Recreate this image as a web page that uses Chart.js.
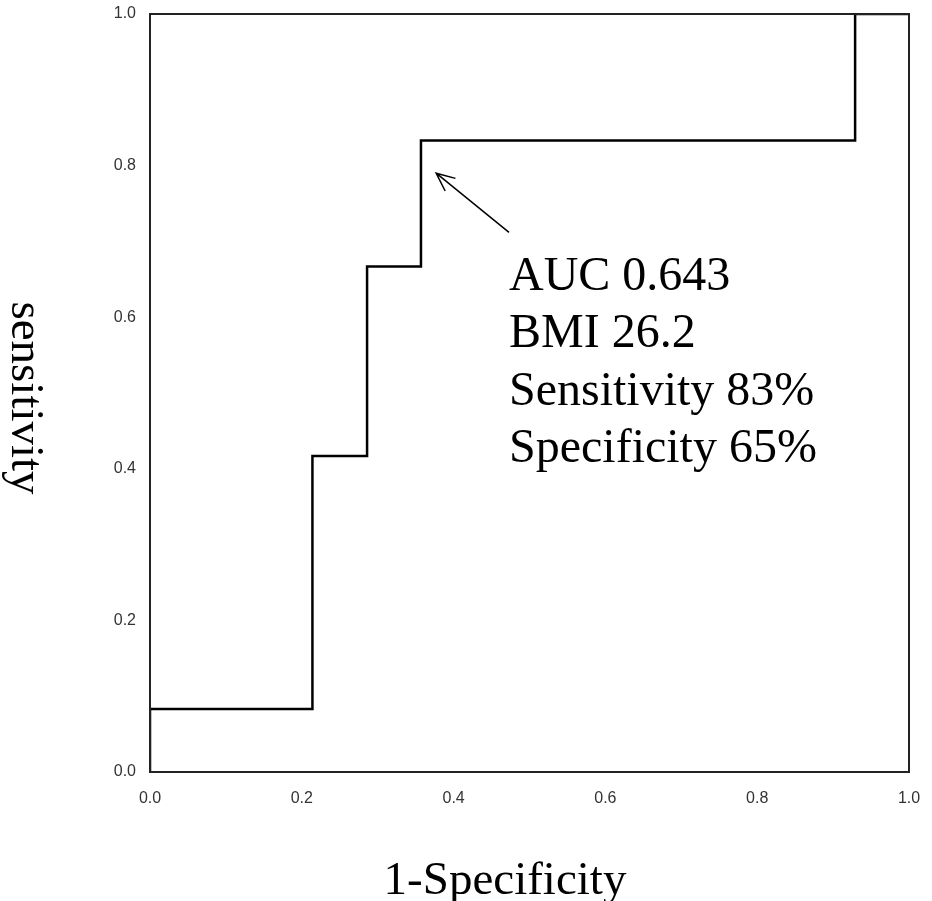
<!DOCTYPE html>
<html>
<head>
<meta charset="utf-8">
<script src="https://cdn.jsdelivr.net/npm/chart.js@4"></script>
<style>
  html, body { margin: 0; padding: 0; background: #fff; }
  canvas { display: block; }
</style>
</head>
<body>
<canvas id="roc" width="932" height="901"></canvas>
<script>
// ROC curve vertices (1-specificity, sensitivity)
const falsePosRate = [0, 0, 0.214, 0.214, 0.286, 0.286, 0.357, 0.357, 0.929, 0.929, 1.0];
const truePosRate = [0, 0.083, 0.083, 0.417, 0.417, 0.667, 0.667, 0.833, 0.833, 1.0, 1.0];
const tickValues = [0, 0.2, 0.4, 0.6, 0.8, 1.0];
const noteLines = ['AUC 0.643', 'BMI 26.2', 'Sensitivity 83%', 'Specificity 65%'];
const xTitle = '1-Specificity';
const yTitle = 'sensitivity';

const serif = '"Liberation Serif", "Times New Roman", serif';
const sans = '"Liberation Sans", Arial, sans-serif';

// frame, arrow, annotation and axis titles
const extras = {
  id: 'extras',
  afterDatasetsDraw(chart) {
    const { ctx, chartArea: a, scales } = chart;
    const x = scales.x, y = scales.y;
    ctx.save();
    ctx.strokeStyle = '#222';
    ctx.lineWidth = 2;
    ctx.strokeRect(a.left, a.top, a.right - a.left, a.bottom - a.top);

    // arrow pointing at the cut-off
    const tipX = x.getPixelForValue(0.377), tipY = y.getPixelForValue(0.790);
    const tailX = x.getPixelForValue(0.473), tailY = y.getPixelForValue(0.712);
    ctx.strokeStyle = '#000';
    ctx.lineWidth = 1.5;
    ctx.beginPath();
    ctx.moveTo(tailX, tailY);
    ctx.lineTo(tipX, tipY);
    const ang = Math.atan2(tailY - tipY, tailX - tipX);
    const hl = 20, hw = 0.42;
    ctx.moveTo(tipX + hl * Math.cos(ang + hw), tipY + hl * Math.sin(ang + hw));
    ctx.lineTo(tipX, tipY);
    ctx.lineTo(tipX + hl * Math.cos(ang - hw), tipY + hl * Math.sin(ang - hw));
    ctx.stroke();

    // annotation text
    ctx.fillStyle = '#000';
    ctx.font = '48px ' + serif;
    ctx.textAlign = 'left';
    ctx.textBaseline = 'alphabetic';
    const tx = x.getPixelForValue(0.473);
    const ty = y.getPixelForValue(0.636);
    noteLines.forEach((s, i) => ctx.fillText(s, tx, ty + i * 57.5));

    // axis titles
    ctx.textBaseline = 'middle';
    ctx.font = '47px ' + serif;
    ctx.textAlign = 'center';
    ctx.fillText(xTitle, 505, 882);
    ctx.translate(24, 398);
    ctx.rotate(Math.PI / 2);
    ctx.fillText(yTitle, 0, 0);
    ctx.restore();
  }
};

function noOverflow(s) {
  s.paddingTop = 0;
  s.paddingBottom = 0;
  s.paddingLeft = 0;
  s.paddingRight = 0;
}

new Chart(document.getElementById('roc').getContext('2d'), {
  type: 'scatter',
  data: {
    datasets: [{
      data: falsePosRate.map((v, i) => ({ x: v, y: truePosRate[i] })),
      showLine: true,
      borderColor: '#000',
      borderWidth: 2.5,
      pointRadius: 0,
      fill: false
    }]
  },
  options: {
    responsive: false,
    devicePixelRatio: 1,
    animation: false,
    layout: { padding: { top: 14, right: 23, bottom: 0, left: 0 } },
    plugins: { legend: { display: false }, tooltip: { enabled: false } },
    scales: {
      x: {
        type: 'linear', min: 0, max: 1,
        grid: { display: false, drawTicks: false },
        border: { display: false },
        afterBuildTicks: s => { s.ticks = tickValues.map(v => ({ value: v })); },
        afterFit: s => { s.height = 129; noOverflow(s); },
        ticks: {
          padding: 17, color: '#333',
          font: { family: sans, size: 16 },
          callback: v => v.toFixed(1)
        }
      },
      y: {
        type: 'linear', min: 0, max: 1,
        grid: { display: false, drawTicks: false },
        border: { display: false },
        afterBuildTicks: s => { s.ticks = tickValues.map(v => ({ value: v })); },
        afterFit: s => { s.width = 150; noOverflow(s); },
        ticks: {
          padding: 14, color: '#333',
          font: { family: sans, size: 16 },
          callback: v => v.toFixed(1)
        }
      }
    }
  },
  plugins: [extras]
});
</script>
</body>
</html>
